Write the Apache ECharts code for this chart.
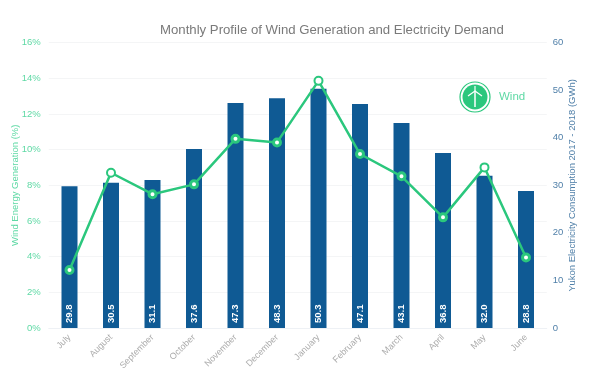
<!DOCTYPE html>
<html>
<head>
<meta charset="utf-8">
<style>html,body{margin:0;padding:0;background:#fff}#chart{width:599px;height:389px}</style>
<script src="https://cdn.jsdelivr.net/npm/echarts@6/dist/echarts.min.js"></script>
</head>
<body>
<div id="chart"></div>
<script>
var months = ['July','August','September','October','November','December','January','February','March','April','May','June'];
var demand = [29.8,30.5,31.1,37.6,47.3,48.3,50.3,47.1,43.1,36.8,32.0,28.8];
var wind = [3.25,8.7,7.5,8.05,10.6,10.4,13.85,9.75,8.5,6.2,9.0,3.95];
// the three months drawn with an open ring in the original
var openRing = ['August','January','May'];

var green = '#2bc77d', lightGreen = '#5fd9a5', blue = '#0f5a94', axisBlue = '#4f7fa8';
var font = '"Liberation Sans", Arial, sans-serif';

var myChart = echarts.init(document.getElementById('chart'));
myChart.setOption({
	animation: false,
	textStyle: {fontFamily: font},
	title: {
		text: 'Monthly Profile of Wind Generation and Electricity Demand',
		left: 155, top: 19,
		textStyle: {fontSize: 13.2, fontWeight: 'normal', color: '#7a7a7a', fontFamily: font}
	},
	grid: {left: 48.75, right: 52.25, top: 42.5, bottom: 61, outerBoundsMode: 'none'},
	xAxis: {
		type: 'category',
		data: months,
		axisLine: {lineStyle: {color: '#eef1f5'}},
		axisTick: {show: false},
		axisLabel: {rotate: 45, color: '#ababab', fontSize: 9, margin: 8, interval: 0}
	},
	yAxis: [
		{
			type: 'value', min: 0, max: 16, interval: 2,
			name: 'Wind Energy Generation (%)',
			nameLocation: 'middle', nameGap: 28, nameMoveOverlap: false,
			nameTextStyle: {color: lightGreen, fontSize: 9.5},
			axisLine: {show: false}, axisTick: {show: false},
			axisLabel: {color: lightGreen, fontSize: 9.5, margin: 8, formatter: '{value}%'},
			splitLine: {lineStyle: {color: '#f4f5f6'}}
		},
		{
			type: 'value', min: 0, max: 60, interval: 10,
			position: 'right',
			name: 'Yukon Electricity Consumption 2017 - 2018 (GWh)',
			nameLocation: 'middle', nameGap: 21, nameMoveOverlap: false,
			nameTextStyle: {color: axisBlue, fontSize: 9.5},
			axisLine: {show: false}, axisTick: {show: false},
			axisLabel: {color: axisBlue, fontSize: 9.5, margin: 6},
			splitLine: {show: false}
		}
	],
	series: [
		{
			name: 'Demand', type: 'bar', yAxisIndex: 1,
			data: demand, barWidth: 16,
			itemStyle: {color: blue},
			label: {
				show: true, position: 'insideBottom', rotate: 90, distance: 5,
				align: 'left', verticalAlign: 'middle',
				color: '#fff', fontSize: 9.5, fontWeight: 'bold',
				formatter: function(p){ return p.value.toFixed(1); }
			}
		},
		{
			name: 'Wind', type: 'line', yAxisIndex: 0, z: 5,
			data: wind.map(function(v,i){
				var open = openRing.indexOf(months[i]) >= 0;
				return {value: v, symbolSize: open ? 8 : 7, itemStyle: {borderWidth: open ? 2 : 3}};
			}),
			symbol: 'circle', showAllSymbol: true,
			lineStyle: {color: green, width: 2.5},
			itemStyle: {color: '#fff', borderColor: green}
		}
	],
	graphic: [
		{type: 'circle', shape: {cx: 475, cy: 97, r: 15}, style: {fill: '#fff', stroke: green, lineWidth: 1.2}, z: 10},
		{type: 'circle', shape: {cx: 475, cy: 97, r: 12.5}, style: {fill: green}, z: 10},
		{type: 'polyline', shape: {points: [[475,107],[475,91]]}, style: {stroke: '#fff', lineWidth: 1.5, fill: null}, z: 11},
		{type: 'polyline', shape: {points: [[468,96],[475,91],[482,96]]}, style: {stroke: '#fff', lineWidth: 1.2, fill: null}, z: 11},
		{type: 'polyline', shape: {points: [[475,86],[475,91]]}, style: {stroke: '#fff', lineWidth: 1.2, fill: null}, z: 11},
		{type: 'text', x: 499, y: 91, style: {text: 'Wind', fill: lightGreen, fontSize: 11.5, fontFamily: font}, z: 11}
	]
});
</script>
</body>
</html>
